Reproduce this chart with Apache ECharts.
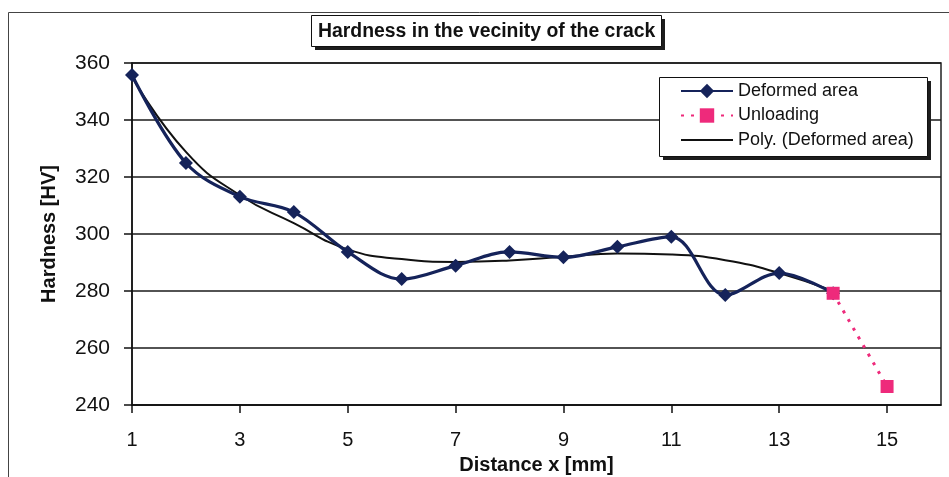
<!DOCTYPE html>
<html>
<head>
<meta charset="utf-8">
<script src="https://cdn.jsdelivr.net/npm/echarts@6/dist/echarts.min.js"></script>
<style>
  html, body { margin: 0; padding: 0; background: #fff; }
  #chart { width: 949px; height: 477px; }
</style>
</head>
<body>
<div id="chart"></div>
<script>
// Measured hardness along the distance from the crack
const distances = [1, 2, 3, 4, 5, 6, 7, 8, 9, 10, 11, 12, 13, 14];
const hardness = [355.8, 324.9, 313.1, 307.7, 293.7, 284.2, 288.9, 293.7, 291.8, 295.5, 299.0, 278.6, 286.3, 279.2];

// Unloading segment
const unloadingX = [14, 15];
const unloadingHV = [279.2, 246.5];

// Polynomial trend of the deformed area, sampled at each distance
const polyHV = [355.2, 328.8, 313.6, 303.8, 294.6, 291.2, 290.2, 290.7, 292.0, 293.2, 292.8, 290.8, 286.3, 280.0];

// Axis tick labels
const xTicks = [1, 3, 5, 7, 9, 11, 13, 15];
const yTicks = [240, 260, 280, 300, 320, 340, 360];

const pair = (xs, ys) => xs.map((x, i) => [x, ys[i]]);

const FONT = "'Liberation Sans', Arial, sans-serif";
const NAVY = '#15235a';
const PINK = '#ee2a7b';
const chart = echarts.init(document.getElementById('chart'), null, { renderer: 'canvas' });

// Framed box with a hard drop shadow
function shadowBox(x, y, w, h, off) {
  return [
    { type: 'rect', z: 5, silent: true, shape: { x: x + off, y: y + off, width: w, height: h }, style: { fill: '#1e1e1e' } },
    { type: 'rect', z: 6, silent: true, shape: { x: x + 0.5, y: y + 0.5, width: w, height: h }, style: { fill: '#fff', stroke: '#111', lineWidth: 1 } }
  ];
}

chart.setOption({
  backgroundColor: '#ffffff',
  animation: false,
  graphic: [
    { type: 'rect', z: -10, silent: true, shape: { x: 8.5, y: 12.5, width: 1000, height: 1000 }, style: { fill: 'none', stroke: '#444', lineWidth: 1 } },
    ...shadowBox(311, 15, 350, 31, 4),
    ...shadowBox(659, 77, 268, 79, 4)
  ],
  title: {
    text: 'Hardness in the vecinity of the crack',
    left: 318,
    top: 21,
    padding: 0,
    z: 10,
    textStyle: { fontFamily: FONT, fontSize: 19.4, fontWeight: 'bold', color: '#111', lineHeight: 22 }
  },
  legend: {
    orient: 'vertical',
    left: 680,
    top: 82,
    padding: 0,
    z: 10,
    itemWidth: 52,
    itemHeight: 18,
    itemGap: 6.5,
    textStyle: { fontFamily: FONT, fontSize: 18, color: '#111', lineHeight: 18 },
    data: [
      'Deformed area',
      'Unloading',
      { name: 'Poly. (Deformed area)', icon: 'path://M0,0 L52,0 L52,2 L0,2 Z', itemStyle: { color: '#111' } }
    ]
  },
  grid: {
    left: 132, right: 8, top: 63, bottom: 72,
    outerBoundsMode: 'none',
    show: true, borderColor: '#222', borderWidth: 1.5, backgroundColor: 'transparent'
  },
  xAxis: {
    type: 'value',
    min: 1, max: 16, interval: 2,
    name: 'Distance x [mm]',
    nameLocation: 'middle',
    nameGap: 50,
    nameTextStyle: { fontFamily: FONT, fontSize: 20, fontWeight: 'bold', color: '#111' },
    axisLine: { show: true, onZero: false, lineStyle: { color: '#111', width: 1.5 } },
    axisTick: { show: true, length: 8, customValues: xTicks, lineStyle: { color: '#111', width: 1.5 } },
    axisLabel: { customValues: xTicks, margin: 25, fontFamily: FONT, fontSize: 20, color: '#111' },
    splitLine: { show: false }
  },
  yAxis: {
    type: 'value',
    min: 240, max: 360, interval: 20,
    name: 'Hardness [HV]',
    nameLocation: 'middle',
    nameGap: 73,
    nameTextStyle: { fontFamily: FONT, fontSize: 20, fontWeight: 'bold', color: '#111' },
    axisLine: { show: true, onZero: false, lineStyle: { color: '#111', width: 1.5 } },
    axisTick: { show: true, length: 8, customValues: yTicks, lineStyle: { color: '#111', width: 1.5 } },
    axisLabel: { customValues: yTicks, margin: 22, fontFamily: FONT, fontSize: 21, color: '#111' },
    splitLine: { show: true, lineStyle: { color: '#1a1a1a', width: 1.6 } }
  },
  series: [
    {
      name: 'Poly. (Deformed area)',
      type: 'line',
      data: pair(distances, polyHV),
      smooth: 0.5,
      symbol: 'none',
      lineStyle: { color: '#111', width: 2 },
      itemStyle: { color: '#111' },
      z: 2
    },
    {
      name: 'Deformed area',
      type: 'line',
      data: pair(distances, hardness),
      smooth: 0.35,
      symbol: 'diamond',
      symbolSize: 14,
      lineStyle: { color: NAVY, width: 3.2 },
      itemStyle: { color: NAVY },
      z: 3
    },
    {
      name: 'Unloading',
      type: 'line',
      data: pair(unloadingX, unloadingHV),
      symbol: 'rect',
      symbolSize: 13,
      lineStyle: { color: PINK, width: 3, type: [3, 7] },
      itemStyle: { color: PINK },
      z: 4
    }
  ]
});
</script>
</body>
</html>
